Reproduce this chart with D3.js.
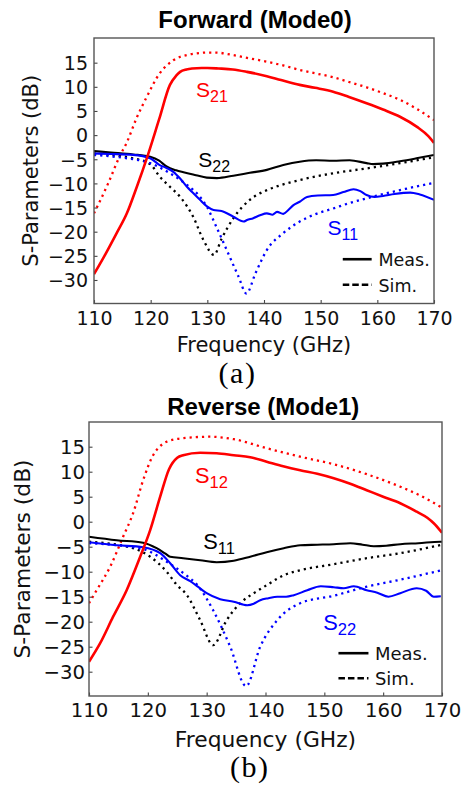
<!DOCTYPE html>
<html>
<head>
<meta charset="utf-8">
<script src="https://cdn.jsdelivr.net/npm/d3@7"></script>
<style>
  html, body { margin: 0; padding: 0; background: #fff; }
  svg { display: block; }
</style>
</head>
<body>
<svg id="chart" width="461" height="787"></svg>
<script>
// ---------------- DATA ----------------
const xTicks = [110, 120, 130, 140, 150, 160, 170];
const yTicks = [15, 10, 5, 0, -5, -10, -15, -20, -25, -30];

// Forward (Mode0)
const fwdS21MeasF  = [110, 112, 114, 115.8, 117.5, 119.4, 121.5, 123.4, 124.5, 125.2, 126.3, 127.3, 129, 130, 132, 134.5, 137, 140.5, 143, 146.3, 149, 152.2, 155, 158.1, 161, 164, 167, 169, 170];
const fwdS21MeasDb = [-28.8, -24.7, -20.3, -16.2, -10.9, -4.5, 3.3, 10.4, 12.3, 13.1, 13.6, 13.8, 13.9, 13.9, 13.8, 13.6, 13.1, 12.2, 11.4, 10.4, 9.8, 9.0, 7.9, 6.6, 5.3, 3.8, 1.7, -0.2, -1.6];
const fwdS21SimF   = [110, 112.5, 114.6, 115.8, 117.5, 119.3, 121.6, 124, 126.4, 128, 130, 131.5, 134, 137, 140.5, 143.5, 146.3, 149, 152.2, 155, 158.1, 161, 164, 167, 170];
const fwdS21SimDb  = [-16.2, -10, -4.2, -1.5, 3.5, 7.9, 12.8, 15.5, 16.6, 16.9, 17.1, 17.1, 16.7, 16.0, 15.2, 14.4, 13.5, 12.8, 12.0, 11.0, 9.9, 8.7, 7.3, 5.4, 3.1];
const fwdS22MeasF  = [110, 113, 116.9, 119.9, 121.5, 122.8, 124.5, 125.8, 128, 129.9, 131.7, 134.6, 137.5, 140.5, 143.4, 146.3, 149.2, 152.2, 155.1, 158.1, 159.3, 161, 164, 166.9, 170];
const fwdS22MeasDb = [-3.3, -3.6, -4.0, -4.5, -5.3, -6.5, -7.3, -7.7, -8.3, -8.8, -8.9, -8.4, -7.8, -7.2, -6.2, -5.5, -5.2, -5.3, -5.2, -5.8, -6.0, -5.9, -5.4, -4.8, -4.1];
const fwdS22SimF   = [110, 113.5, 116.9, 119.9, 121.6, 123.4, 125.2, 127.5, 129.3, 131.2, 132.5, 134.6, 137.5, 140.5, 143.4, 146.3, 152.2, 158.1, 164, 170];
const fwdS22SimDb  = [-3.8, -4.2, -4.8, -6.0, -8.6, -10.7, -12.8, -16.9, -21.7, -24.8, -21.5, -17.2, -13.4, -11.4, -10.2, -9.3, -7.9, -6.9, -5.8, -4.6];
const fwdS11MeasF  = [110, 113, 116.9, 119.9, 121.6, 122.8, 124, 125.2, 126.4, 127.5, 128.7, 130, 131.1, 132.5, 134.6, 136.4, 137, 138.1, 139.3, 140.5, 141.5, 142.3, 143.4, 144.3, 145.2, 146.3, 147.6, 149.5, 152.2, 154, 155.8, 157, 158.1, 159.5, 161, 163, 165.8, 167.5, 170];
const fwdS11MeasDb = [-3.8, -3.9, -4.1, -4.8, -6.2, -6.8, -7.6, -9.0, -10.7, -12.0, -13.4, -14.8, -15.5, -15.7, -16.9, -17.9, -17.6, -17.2, -16.6, -16.2, -16.5, -15.9, -16.3, -15.5, -14.5, -13.8, -12.8, -12.5, -12.4, -11.8, -11.2, -11.6, -12.4, -12.8, -12.6, -12.2, -11.9, -12.3, -13.4];
const fwdS11SimF   = [110, 113, 115.8, 119.9, 123.4, 126.4, 128.5, 129.9, 131.6, 133.5, 135.5, 136.9, 138.5, 140.5, 143.4, 146.3, 149, 152.2, 155, 158.1, 161, 164, 167, 170];
const fwdS11SimDb  = [-4.1, -4.4, -4.8, -5.8, -7.9, -10.3, -12.5, -14.8, -19, -24, -29.3, -32.8, -28.6, -23.8, -20.3, -17.9, -16.4, -15.2, -14.1, -13.1, -12.2, -11.4, -10.6, -9.9];

// Reverse (Mode1)
const revS12MeasF  = [110, 111.9, 114.1, 116.4, 118.7, 120.4, 122.1, 123.6, 125, 126, 128.9, 131.7, 134.6, 137.4, 140.2, 143, 145.9, 148.8, 151.6, 154.4, 157.2, 160, 162.9, 165.7, 167.5, 168.6, 170];
const revS12MeasDb = [-28, -24.3, -19, -13.7, -7, -1.7, 5.0, 10.5, 12.8, 13.3, 13.8, 13.7, 13.3, 12.9, 12.0, 11.1, 10.3, 9.6, 8.7, 7.6, 6.3, 5.0, 3.7, 2.0, 0.8, -0.3, -2.2];
const revS12SimF   = [110, 111.3, 113.6, 115.8, 117.5, 119.2, 120.9, 122, 123.2, 126, 130.6, 134.6, 140.2, 145.9, 151.6, 157.2, 162.9, 166, 170];
const revS12SimDb  = [-16.3, -13.7, -9, -3, 1.7, 8.3, 13.3, 15, 16, 16.7, 17.0, 16.5, 14.7, 13, 11.5, 9.5, 7, 5.4, 2.8];
const revS11MeasF  = [110, 114.7, 119.2, 121.5, 123, 123.8, 126, 128.9, 131.7, 134.6, 137.4, 140.2, 143.1, 145.9, 148.8, 151.6, 154.4, 156.5, 158.4, 160.5, 162.9, 166, 169.7, 170];
const revS11MeasDb = [-3.0, -3.7, -4.2, -5.3, -6.4, -7.0, -7.3, -7.7, -8.1, -7.8, -7.0, -6.1, -5.3, -4.7, -4.6, -4.5, -4.3, -4.6, -4.9, -4.8, -4.5, -4.3, -4.0, -4.0];
const revS11SimF   = [110, 117.5, 120.4, 123.2, 124.9, 126.6, 128.9, 131.1, 133.4, 135.7, 138, 140.2, 143.1, 145.9, 151.6, 157.2, 162.9, 170];
const revS11SimDb  = [-4, -5.3, -7, -10, -12.6, -14.6, -19.7, -24.7, -19.7, -16.3, -14.3, -12.7, -10.7, -9.7, -8.5, -7.3, -6.3, -4.6];
const revS22MeasF  = [110, 114.7, 119.2, 122.1, 123.8, 125.5, 127.2, 128.5, 130, 132.3, 134.6, 136.9, 138, 139.1, 140.5, 142, 143.5, 144.8, 147.1, 149.4, 151.6, 153.3, 155, 157.2, 159, 160.9, 162.9, 165.7, 167.3, 168.6, 169.8];
const revS22MeasDb = [-4.1, -4.7, -5.1, -6.3, -8.3, -10.7, -11.9, -13.0, -14.3, -15.5, -16, -16.7, -16.4, -15.7, -15.3, -15.0, -15.0, -14.7, -13.7, -12.9, -13.1, -13.3, -12.9, -13.7, -14.2, -15, -14.3, -13.3, -13.8, -15, -14.9];
const revS22SimF   = [110, 119.2, 123.2, 126.6, 128.3, 131.1, 134, 136.7, 139.1, 142, 145.9, 151.6, 157.2, 162.9, 170];
const revS22SimDb  = [-4.3, -5.5, -8.0, -10.8, -12.5, -17.7, -25, -32.9, -25, -19.7, -16.3, -14.8, -13.0, -11.6, -9.7];

const legendLabels = ["Meas.", "Sim."];

// ---------------- DRAW ----------------
const svg = d3.select("#chart");
const RED = "#ff0000", BLUE = "#0000ff", BLACK = "#000000";

const zip = (fs, ds) => fs.map((f, i) => ({ f, d: ds[i] }));

const panels = [
  {
    title: "Forward (Mode0)", titleX: 255, titleY: 28, titleSize: 24,
    left: 94, right: 434, top: 38, bottom: 303.5, yDom: [-34.87, 20.11],
    tickSize: 19, tickGap: 6, xTickBase: 325,
    labelSize: 21, xLabelY: 352, yLabelX: 38,
    caption: "(a)", capX: 237.5, capY: 383,
    series: [
      { f: fwdS21SimF, d: fwdS21SimDb, c: RED, sim: true },
      { f: fwdS22SimF, d: fwdS22SimDb, c: BLACK, sim: true },
      { f: fwdS11SimF, d: fwdS11SimDb, c: BLUE, sim: true },
      { f: fwdS22MeasF, d: fwdS22MeasDb, c: BLACK, sim: false },
      { f: fwdS11MeasF, d: fwdS11MeasDb, c: BLUE, sim: false },
      { f: fwdS21MeasF, d: fwdS21MeasDb, c: RED, sim: false }
    ],
    labels: [
      { sub: "21", c: RED, f: 128.0, d: 7.9 },
      { sub: "22", c: BLACK, f: 128.4, d: -6.5 },
      { sub: "11", c: BLUE, f: 151.2, d: -20.7 }
    ],
    legend: { f0: 153.9, f1: 159.0, d0: -25.7, d1: -31.0, textF: 160.2 },
    sLabelSize: 21, legSize: 17.5
  },
  {
    title: "Reverse (Mode1)", titleX: 263.3, titleY: 415, titleSize: 24,
    left: 89, right: 442, top: 422, bottom: 696, yDom: [-34.86, 19.94],
    tickSize: 19.7, tickGap: 4, xTickBase: 716.7,
    labelSize: 21.8, xLabelY: 746.7, yLabelX: 30,
    caption: "(b)", capX: 249.7, capY: 777,
    series: [
      { f: revS12SimF, d: revS12SimDb, c: RED, sim: true },
      { f: revS11SimF, d: revS11SimDb, c: BLACK, sim: true },
      { f: revS22SimF, d: revS22SimDb, c: BLUE, sim: true },
      { f: revS11MeasF, d: revS11MeasDb, c: BLACK, sim: false },
      { f: revS22MeasF, d: revS22MeasDb, c: BLUE, sim: false },
      { f: revS12MeasF, d: revS12MeasDb, c: RED, sim: false }
    ],
    labels: [
      { sub: "12", c: RED, f: 128.0, d: 7.7 },
      { sub: "11", c: BLACK, f: 129.4, d: -5.5 },
      { sub: "22", c: BLUE, f: 149.8, d: -21.7 }
    ],
    legend: { f0: 152.4, f1: 157.5, d0: -26.3, d1: -31.3, textF: 158.6 },
    sLabelSize: 21.8, legSize: 18
  }
];

panels.forEach(p => {
  const x = d3.scaleLinear().domain([110, 170]).range([p.left, p.right]);
  const y = d3.scaleLinear().domain(p.yDom).range([p.bottom, p.top]);
  const g = svg.append("g");

  const clipId = "clip" + p.top;
  svg.append("defs").append("clipPath").attr("id", clipId)
    .append("rect").attr("x", p.left).attr("y", p.top)
    .attr("width", p.right - p.left).attr("height", p.bottom - p.top);

  // curves
  const line = d3.line().x(v => x(v.f)).y(v => y(v.d)).curve(d3.curveMonotoneX);
  const cg = g.append("g").attr("clip-path", `url(#${clipId})`);
  p.series.forEach(s => {
    cg.append("path")
      .attr("d", line(zip(s.f, s.d)))
      .attr("fill", "none")
      .attr("stroke", s.c)
      .attr("stroke-width", s.sim ? 2.3 : (s.c === RED ? 2.6 : 2.1))
      .attr("stroke-dasharray", s.sim ? "2.2,4" : null)
      .attr("stroke-linejoin", "round");
  });

  // axes
  const xAxis = d3.axisBottom(x).tickValues(xTicks).tickSizeInner(-3.5).tickSizeOuter(0)
    .tickFormat(d3.format("d"));
  const yAxis = d3.axisLeft(y).tickValues(yTicks).tickSizeInner(-3.5).tickSizeOuter(0)
    .tickFormat(v => (v < 0 ? "\u2212" + Math.abs(v) : String(v)));

  const gx = g.append("g").attr("transform", `translate(0,${p.bottom})`).call(xAxis);
  gx.select(".domain").remove();
  gx.selectAll(".tick line").attr("stroke", "#444").attr("stroke-width", 1.1);
  gx.selectAll(".tick text")
    .attr("font-family", "DejaVu Sans").attr("font-size", p.tickSize).attr("fill", "#111")
    .attr("dy", null).attr("y", p.xTickBase - p.bottom);

  const gy = g.append("g").attr("transform", `translate(${p.left},0)`).call(yAxis);
  gy.select(".domain").remove();
  gy.selectAll(".tick line").attr("stroke", "#444").attr("stroke-width", 1.1);
  gy.selectAll(".tick text")
    .attr("font-family", "DejaVu Sans").attr("font-size", p.tickSize).attr("fill", "#111")
    .attr("x", -p.tickGap).attr("dy", "0.36em");

  // frame
  g.append("rect")
    .attr("x", p.left).attr("y", p.top)
    .attr("width", p.right - p.left).attr("height", p.bottom - p.top)
    .attr("fill", "none").attr("stroke", "#555").attr("stroke-width", 1.4);

  // axis titles
  g.append("text").text("Frequency (GHz)")
    .attr("x", (p.left + p.right) / 2).attr("y", p.xLabelY)
    .attr("text-anchor", "middle").attr("font-family", "DejaVu Sans")
    .attr("font-size", p.labelSize).attr("fill", "#111");
  g.append("text").text("S-Parameters (dB)")
    .attr("transform", `translate(${p.yLabelX},${(p.top + p.bottom) / 2}) rotate(-90)`)
    .attr("text-anchor", "middle").attr("font-family", "DejaVu Sans")
    .attr("font-size", p.labelSize).attr("fill", "#111");

  // title
  g.append("text").text(p.title)
    .attr("x", p.titleX).attr("y", p.titleY)
    .attr("text-anchor", "middle").attr("font-family", "Liberation Sans, Arial, sans-serif")
    .attr("font-weight", "bold").attr("font-size", p.titleSize).attr("fill", "#000");

  // curve labels
  p.labels.forEach(l => {
    const t = g.append("text")
      .attr("x", x(l.f)).attr("y", y(l.d))
      .attr("font-family", "Liberation Sans, Arial, sans-serif")
      .attr("font-size", p.sLabelSize).attr("fill", l.c);
    t.append("tspan").text("S");
    t.append("tspan").text(l.sub).attr("font-size", p.sLabelSize * 0.76).attr("dy", 5);
  });

  // legend
  const L = p.legend;
  [[L.d0, null, legendLabels[0]], [L.d1, "6.5,3", legendLabels[1]]].forEach(([d, dash, label]) => {
    g.append("line")
      .attr("x1", x(L.f0)).attr("x2", x(L.f1)).attr("y1", y(d)).attr("y2", y(d))
      .attr("stroke", "#000").attr("stroke-width", 2.6).attr("stroke-dasharray", dash);
    g.append("text").text(label)
      .attr("x", x(L.textF)).attr("y", y(d) + 7.2)
      .attr("font-family", "DejaVu Sans").attr("font-size", p.legSize).attr("fill", "#111");
  });

  // caption
  g.append("text").text(p.caption)
    .attr("x", p.capX).attr("y", p.capY)
    .attr("text-anchor", "middle").attr("font-family", "Liberation Serif, Times New Roman, serif")
    .attr("font-size", 30).attr("letter-spacing", 1.5).attr("fill", "#000");
});
</script>
</body>
</html>
